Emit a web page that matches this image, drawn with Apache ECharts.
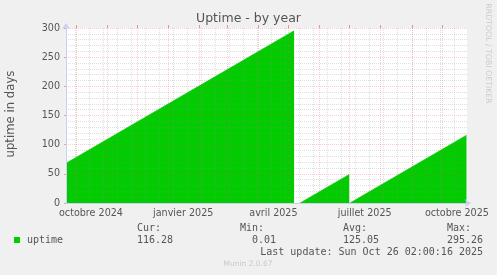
<!DOCTYPE html>
<html><head><meta charset="utf-8">
<script src="https://cdn.jsdelivr.net/npm/echarts@6/dist/echarts.min.js"></script>
<style>html,body{margin:0;padding:0;background:#f0f0f0;}#c{width:497px;height:275px;}</style>
</head><body><div id="c"></div>
<script>
// ---- data ----
const startDate = '2024-09-21T02:00:00Z';   // left edge of the 400-day window
const spanDays = 400;
// uptime samples: day offset from startDate, uptime in days (null = no data)
const uptimeDays   = [0,    227.5,  228,  233.5, 282.5, 282.9, 283.2, 399.5];
const uptimeValues = [68.1, 295.26, null, 0.1,   49.0,  null,  0.01,  116.28];
const xTickLabels     = ['octobre 2024', 'janvier 2025', 'avril 2025', 'juillet 2025', 'octobre 2025'];
const xTickLabelDates = ['2024-10-16', '2025-01-16', '2025-04-16', '2025-07-16', '2025-10-16'];
const monthStartDates = ['2024-10-01','2024-11-01','2024-12-01','2025-01-01','2025-02-01','2025-03-01',
  '2025-04-01','2025-05-01','2025-06-01','2025-07-01','2025-08-01','2025-09-01','2025-10-01'];
const minorGridDates = ['2024-09-30','2024-10-14','2024-10-28','2024-11-11','2024-11-25','2024-12-09','2024-12-23',
  '2025-01-06','2025-01-20','2025-02-03','2025-02-17','2025-03-03','2025-03-17','2025-03-31','2025-04-14','2025-04-28',
  '2025-05-12','2025-05-26','2025-06-09','2025-06-23','2025-07-07','2025-07-21','2025-08-04','2025-08-18','2025-09-01',
  '2025-09-15','2025-09-29','2025-10-13'];
const yMax = 300, yMajor = 50;
const titleText = 'Uptime - by year';
const yName = 'uptime in days';
const seriesName = 'uptime';
const statLabels = ['Cur:', 'Min:', 'Avg:', 'Max:'];
const statValues = ['116.28', '  0.01', '125.05', '295.26'];
const lastUpdate = 'Last update: Sun Oct 26 02:00:16 2025';
const footer = 'Munin 2.0.67';
const watermark = 'RRDTOOL / TOBI OETIKER';

// ---- helpers ----
const t0 = Date.parse(startDate);
const toDay = d => (Date.parse(d + 'T00:00:00Z') - t0) / 86400000;
const labelDays = xTickLabelDates.map(toDay);
const monthDays = monthStartDates.map(toDay);
const minorDays = minorGridDates.map(toDay);
const seriesData = uptimeDays.map((d, i) => [d, uptimeValues[i]]);

const GREEN = '#00cc00';
const TXT = '#555555';
const AXIS = '#c8d0f4';
const MAJ = 'rgba(235,80,80,0.28)';
const MIN = 'rgba(140,140,140,0.28)';
const dot = [1, 1];

const chart = echarts.init(document.getElementById('c'), null, {renderer: 'canvas'});
const G = {left: 66, top: 28, width: 401, height: 175};
const baseX = {type: 'value', min: 0, max: spanDays, gridIndex: 0, z: 3};
chart.setOption({
  animation: false,
  backgroundColor: '#f0f0f0',
  grid: [Object.assign({backgroundColor: '#ffffff', show: true, borderWidth: 0}, G)],
  xAxis: [
    Object.assign({}, baseX, {
      axisLine: {show: true, lineStyle: {color: AXIS, width: 1}, symbol: ['none', 'arrow'], symbolSize: [6, 6], symbolOffset: [0, 4]},
      axisTick: {show: false},
      splitLine: {show: false},
      axisLabel: {
        show: true, customValues: labelDays, margin: 5,
        fontFamily: 'DejaVu Sans', fontSize: 9.6, color: TXT,
        formatter: v => { let best = 0; labelDays.forEach((d, i) => { if (Math.abs(d - v) < Math.abs(labelDays[best] - v)) best = i; }); return xTickLabels[best]; }
      }
    }),
    Object.assign({}, baseX, {
      axisLine: {show: false},
      axisTick: {show: true, customValues: monthDays, length: 3, lineStyle: {color: 'rgba(235,80,80,0.6)'}},
      axisLabel: {show: false},
      splitLine: {show: true, lineStyle: {color: MAJ, width: 1, type: dot}}
    }),
    Object.assign({}, baseX, {
      axisLine: {show: false},
      axisTick: {show: false, customValues: minorDays},
      axisLabel: {show: false},
      splitLine: {show: true, lineStyle: {color: MIN, width: 1, type: dot}}
    })
  ],
  yAxis: [{
    type: 'value', min: 0, max: yMax, interval: yMajor, z: 3,
    axisLine: {show: true, lineStyle: {color: AXIS, width: 1}, symbol: ['none', 'arrow'], symbolSize: [6, 6], symbolOffset: [0, 5]},
    axisTick: {show: true, length: 2, lineStyle: {color: 'rgba(235,80,80,0.5)'}},
    minorTick: {show: false, splitNumber: 5},
    axisLabel: {margin: 6, fontFamily: 'DejaVu Sans', fontSize: 9.6, color: TXT},
    splitLine: {show: true, lineStyle: {color: MAJ, width: 1, type: dot}},
    minorSplitLine: {show: true, lineStyle: {color: MIN, width: 1, type: dot}}
  }],
  series: [{
    name: seriesName, type: 'line', xAxisIndex: 0, yAxisIndex: 0, z: 2,
    data: seriesData, symbol: 'none', showSymbol: false, connectNulls: false,
    lineStyle: {color: GREEN, width: 0.6}, areaStyle: {color: GREEN, opacity: 1}
  }],
  graphic: [
    {type: 'text', x: 248.5, y: 18.5, style: {text: titleText, font: '12.5px "DejaVu Sans"', fill: TXT, align: 'center', verticalAlign: 'middle', textAlign: 'center', textVerticalAlign: 'middle'}},
    {type: 'text', x: 10.5, y: 114, rotation: Math.PI / 2, style: {text: yName, font: '11.7px "DejaVu Sans"', fill: TXT, align: 'center', verticalAlign: 'middle', textAlign: 'center', textVerticalAlign: 'middle'}},
    {type: 'text', x: 488, y: 53.5, rotation: -Math.PI / 2, style: {text: watermark, font: '7.8px "DejaVu Sans"', fill: '#cccccc', align: 'center', verticalAlign: 'middle', textAlign: 'center', textVerticalAlign: 'middle'}},
    {type: 'rect', shape: {x: 14, y: 237, width: 6, height: 6}, style: {fill: GREEN}},
    {type: 'text', x: 27, y: 240, style: {text: seriesName, font: '10px "DejaVu Sans Mono"', fill: TXT, align: 'left', verticalAlign: 'middle', textAlign: 'left', textVerticalAlign: 'middle'}}
  ].concat(
    statLabels.map((s, i) => ({type: 'text', x: [137, 240, 343, 447][i], y: 228, style: {text: s, font: '10px "DejaVu Sans Mono"', fill: TXT, align: 'left', verticalAlign: 'middle', textAlign: 'left', textVerticalAlign: 'middle'}})),
    statValues.map((s, i) => ({type: 'text', x: [137, 240, 343, 447][i], y: 240, style: {text: s, font: '10px "DejaVu Sans Mono"', fill: TXT, align: 'left', verticalAlign: 'middle', textAlign: 'left', textVerticalAlign: 'middle'}})),
    [
      {type: 'text', x: 483, y: 252, style: {text: lastUpdate, font: '10px "DejaVu Sans Mono"', fill: TXT, align: 'right', verticalAlign: 'middle', textAlign: 'right', textVerticalAlign: 'middle'}},
      {type: 'text', x: 248, y: 264, style: {text: footer, font: '7.5px "DejaVu Sans"', fill: '#c8c8c8', align: 'center', verticalAlign: 'middle', textAlign: 'center', textVerticalAlign: 'middle'}}
    ]
  )
});
</script></body></html>
